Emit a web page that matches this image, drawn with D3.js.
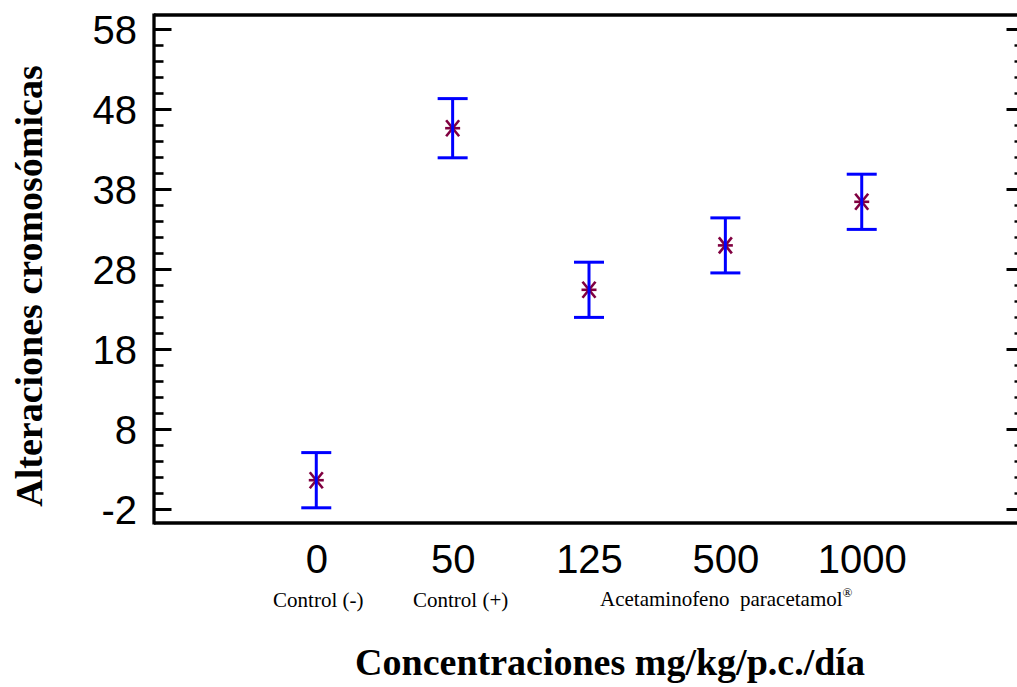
<!DOCTYPE html>
<html>
<head>
<meta charset="utf-8">
<script src="https://cdn.jsdelivr.net/npm/d3@7"></script>
<style>
  html, body { margin: 0; padding: 0; background: #fff; }
  svg { display: block; }
</style>
</head>
<body>
<svg id="chart" width="1017" height="687"></svg>
<script>
// ---- data ----
const categories = ["0", "50", "125", "500", "1000"];
const groupLabels = ["Control (-)", "Control (+)", "Acetaminofeno  paracetamol"];
const means = [1.6, 45.6, 25.4, 30.95, 36.4];
const errors = [3.45, 3.7, 3.45, 3.44, 3.45];
const yMajorTicks = [-2, 8, 18, 28, 38, 48, 58];
const yMinorTicks = [0, 2, 4, 6, 10, 12, 14, 16, 20, 22, 24, 26, 30, 32, 34, 36, 40, 42, 44, 46, 50, 52, 54, 56];

(function () {
// ---- layout ----
const pLeft = 154, pRight = 1024, pTop = 15, pBottom = 523;
const svg = d3.select("#chart");
svg.append("rect").attr("width", 1017).attr("height", 687).attr("fill", "#fff");

const x = d3.scaleLinear().domain([-1.19, 5.19]).range([pLeft, pRight]);
const y = d3.scaleLinear().domain([-3.75, 59.75]).range([pBottom, pTop]);

const sans = "'Liberation Sans', Arial, sans-serif";
const serif = "'Liberation Serif', 'Times New Roman', serif";

// ---- left axis ----
const gL = svg.append("g").attr("transform", `translate(${pLeft},0)`);
gL.call(d3.axisLeft(y).tickValues(yMajorTicks).tickSize(-17.5).tickPadding(0).tickFormat(d => d));
gL.select(".domain").remove();
gL.selectAll(".tick line").attr("stroke", "#000").attr("stroke-width", 3);
gL.selectAll(".tick text")
  .attr("x", -17).attr("dy", "0.36em")
  .style("font-family", sans).style("font-size", "40px").attr("fill", "#000");

const gLm = svg.append("g").attr("transform", `translate(${pLeft},0)`);
gLm.call(d3.axisLeft(y).tickValues(yMinorTicks).tickSize(-9.5).tickFormat(""));
gLm.select(".domain").remove();
gLm.selectAll(".tick line").attr("stroke", "#000").attr("stroke-width", 2.6);

// ---- right axis ----
const gR = svg.append("g").attr("transform", `translate(${pRight},0)`);
gR.call(d3.axisRight(y).tickValues(yMajorTicks).tickSize(-17.5).tickFormat(""));
gR.select(".domain").remove();
gR.selectAll(".tick line").attr("stroke", "#000").attr("stroke-width", 3);
const gRm = svg.append("g").attr("transform", `translate(${pRight},0)`);
gRm.call(d3.axisRight(y).tickValues(yMinorTicks).tickSize(-9.5).tickFormat(""));
gRm.select(".domain").remove();
gRm.selectAll(".tick line").attr("stroke", "#000").attr("stroke-width", 2.4);

// ---- bottom axis (labels only) ----
const gB = svg.append("g").attr("transform", `translate(0,${pBottom})`);
gB.call(d3.axisBottom(x).tickValues(d3.range(categories.length)).tickSize(0).tickFormat(i => categories[i]));
gB.select(".domain").remove();
gB.selectAll(".tick text")
  .attr("y", 50).attr("dy", 0)
  .style("font-family", sans).style("font-size", "40px").attr("fill", "#000");

// ---- frame ----
const frame = svg.append("g").attr("stroke", "#000").attr("stroke-width", 3.3).attr("fill", "none");
frame.append("line").attr("x1", pLeft).attr("x2", pLeft).attr("y1", pTop - 1.6).attr("y2", pBottom + 1.6);
frame.append("line").attr("x1", pLeft).attr("x2", pRight).attr("y1", pTop).attr("y2", pTop);
frame.append("line").attr("x1", pLeft).attr("x2", pRight).attr("y1", pBottom).attr("y2", pBottom);
frame.append("line").attr("x1", pRight).attr("x2", pRight).attr("y1", pTop).attr("y2", pBottom);

// ---- asterisks ----
const marks = svg.append("g").attr("stroke", "#800040").attr("stroke-width", 2.6).attr("stroke-linecap", "butt");
means.forEach((m, i) => {
  const cx = x(i), cy = y(m);
  marks.append("line").attr("x1", cx - 7.5).attr("x2", cx + 7.5).attr("y1", cy).attr("y2", cy);
  marks.append("line").attr("x1", cx - 6.5).attr("x2", cx + 6.5).attr("y1", cy - 8).attr("y2", cy + 8);
  marks.append("line").attr("x1", cx - 6.5).attr("x2", cx + 6.5).attr("y1", cy + 8).attr("y2", cy - 8);
});

// ---- error bars ----
const eb = svg.append("g").attr("stroke", "#0000ff").attr("stroke-width", 3);
means.forEach((m, i) => {
  const cx = x(i);
  const yt = y(m + errors[i]), yb = y(m - errors[i]);
  eb.append("line").attr("x1", cx).attr("x2", cx).attr("y1", yt).attr("y2", yb);
  eb.append("line").attr("x1", cx - 15).attr("x2", cx + 15).attr("y1", yt).attr("y2", yt);
  eb.append("line").attr("x1", cx - 15).attr("x2", cx + 15).attr("y1", yb).attr("y2", yb);
});

// ---- group labels ----
const gl = svg.append("g").style("font-family", serif).style("font-size", "21px").attr("fill", "#000");
gl.append("text").attr("x", x(0) + 2).attr("y", 607).attr("text-anchor", "middle").text(groupLabels[0]);
gl.append("text").attr("x", x(1) + 8).attr("y", 607).attr("text-anchor", "middle").text(groupLabels[1]);
const t3 = gl.append("text").attr("x", x(2) + 11).attr("y", 606).attr("text-anchor", "start")
  .style("white-space", "pre");
t3.append("tspan").text(groupLabels[2]);
t3.append("tspan").attr("dy", -9).style("font-size", "13px").text("®");

// ---- axis titles ----
svg.append("text")
  .attr("transform", "translate(42,286) rotate(-90)")
  .attr("text-anchor", "middle")
  .style("font-family", serif).style("font-weight", "bold").style("font-size", "38px")
  .attr("fill", "#000")
  .text("Alteraciones cromosómicas");
svg.append("text")
  .attr("x", 610).attr("y", 675)
  .attr("text-anchor", "middle")
  .style("font-family", serif).style("font-weight", "bold").style("font-size", "38px")
  .attr("fill", "#000")
  .text("Concentraciones mg/kg/p.c./día");
})();
</script>
</body>
</html>
